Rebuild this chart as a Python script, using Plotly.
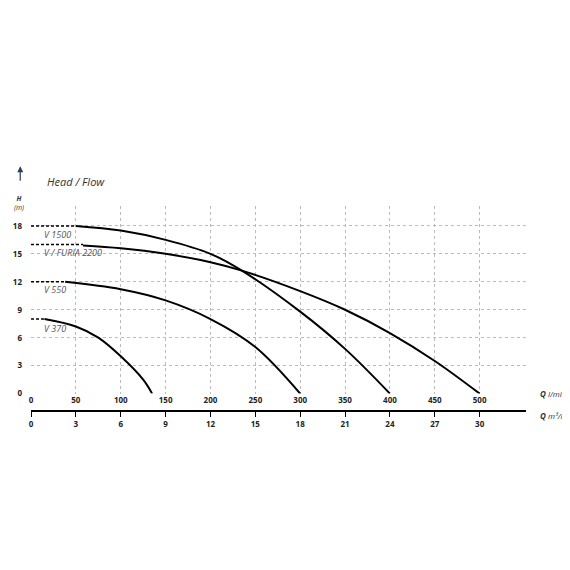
import plotly.graph_objects as go

# pump curves: Q (l/min) vs H (m); dashed start then solid curve
names = ["V 1500", "V / FURIA 2200", "V 550", "V 370"]
dash_end = [50, 58, 38, 15]
start_h = [18, 16, 12, 8]
curve_q = [
    [50, 100, 150, 200, 235, 300, 350, 400],
    [58, 100, 150, 200, 235, 300, 350, 400, 450, 500],
    [38, 100, 150, 200, 250, 300],
    [15, 50, 75, 100, 125, 135],
]
curve_h = [
    [18, 17.5, 16.5, 15.0, 13.2, 8.8, 4.8, 0],
    [15.9, 15.6, 15.0, 14.1, 13.2, 11.0, 9.0, 6.5, 3.5, 0],
    [12, 11.2, 10.0, 8.0, 5.0, 0],
    [8, 7.2, 6.0, 4.0, 1.5, 0],
]
label_h = [17.1, 15.1, 11.2, 7.0]
lmin_ticks = list(range(0, 501, 50))
m3h_ticks = list(range(0, 31, 3))
h_ticks = [0, 3, 6, 9, 12, 15, 18]

fig = go.Figure()
for i, n in enumerate(names):
    fig.add_trace(go.Scatter(x=[0, dash_end[i]], y=[start_h[i], start_h[i]], mode="lines",
                             line=dict(color="black", width=1.5, dash="3px,2px")))
    fig.add_trace(go.Scatter(x=curve_q[i], y=curve_h[i], mode="lines",
                             line=dict(color="black", width=2, shape="spline")))
    fig.add_annotation(x=12, y=label_h[i], text=n, showarrow=False, xanchor="left",
                       font=dict(family="Open Sans", size=9, color="#555", style="italic"))

# second x axis (m3/h) drawn as a separate line below
fig.add_trace(go.Scatter(x=[0], y=[0], xaxis="x2", mode="markers", marker=dict(opacity=0)))

tf = dict(family="Open Sans", size=8, color="#222", weight="bold")
fig.update_layout(
    width=570, height=570, margin=dict(l=0, r=0, t=0, b=0),
    paper_bgcolor="white", plot_bgcolor="white", showlegend=False,
    xaxis=dict(domain=[0.037, 0.909], range=[0, 552], tickvals=lmin_ticks, showgrid=True,
               gridcolor="#bbb", griddash="dot", zeroline=False, tickfont=tf, ticks="", showline=False),
    yaxis=dict(domain=[0.3175, 0.649], range=[0, 20.1], tickvals=h_ticks, showgrid=True,
               gridcolor="#bbb", griddash="dot", zeroline=False, tickfont=tf, ticklabelstandoff=8),
    xaxis2=dict(range=[0, 30 * 552 / 500], overlaying="x", anchor="free", position=0.286,
                domain=[0.037, 0.909], tickvals=m3h_ticks, showgrid=False, zeroline=False,
                showline=True, linecolor="black", linewidth=2, ticks="outside", ticklen=5,
                tickcolor="black", tickfont=tf, side="bottom"),
)

ann = [
    (0.93, 0.304, "<b><i>Q</i></b> <i>l/min</i> ➞", 8),
    (0.93, 0.265, "<b><i>Q</i></b> <i>m³/h</i> ➞", 8),
    (0.062, 0.71, "<i>Head / Flow</i>", 11),
    (0.003, 0.675, "<b><i>H</i></b><br><i>(m)</i>", 7),
]
for x, y, t, s in ann:
    fig.add_annotation(xref="paper", yref="paper", x=x, y=y, text=t, showarrow=False,
                       xanchor="left", font=dict(family="Open Sans", size=s, color="#333"))
fig.add_annotation(xref="paper", yref="paper", x=0.018, y=0.72, ax=0, ay=16,
                   showarrow=True, arrowhead=2, arrowwidth=1.2, text="")

fig.write_html("out.html")
